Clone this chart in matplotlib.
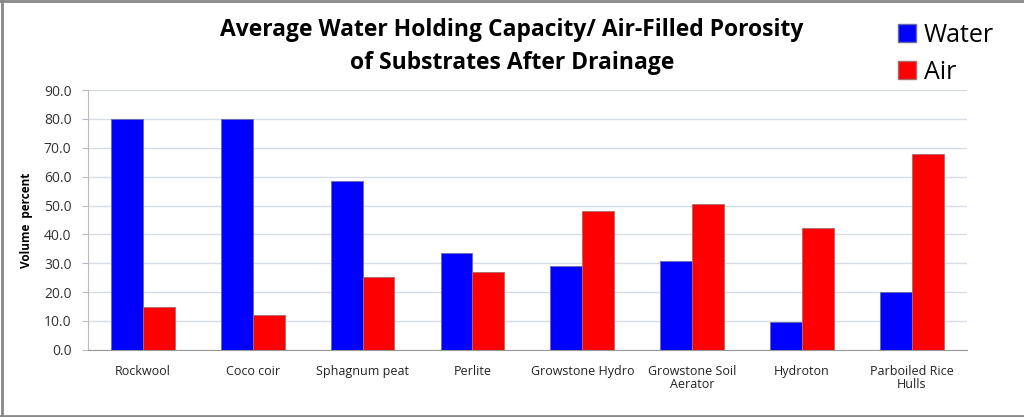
import matplotlib
matplotlib.use("Agg")
import matplotlib.pyplot as plt
import numpy as np
from matplotlib.lines import Line2D

categories = ["Rockwool", "Coco coir", "Sphagnum peat", "Perlite", "Growstone Hydro",
              "Growstone Soil\nAerator", "Hydroton", "Parboiled Rice\nHulls"]
water = [80.0, 80.0, 58.6, 33.6, 28.9, 30.9, 9.5, 20.0]
air = [14.9, 12.2, 25.3, 26.9, 48.1, 50.7, 42.3, 67.9]
yticks = [0, 10, 20, 30, 40, 50, 60, 70, 80, 90]

plt.rcParams['font.family'] = ['Open Sans', 'DejaVu Sans']

fig = plt.figure(figsize=(10.24, 4.17), dpi=100)
ax = fig.add_axes([0.086, 0.161, 0.858, 0.623])

x = np.arange(len(categories))
w = 0.29
ax.bar(x - w/2, water, w, color="#0000FF", edgecolor="#6a6aa8", linewidth=0.6, zorder=3, label="Water")
ax.bar(x + w/2, air, w, color="#FF0000", edgecolor="#a86a6a", linewidth=0.6, zorder=3, label="Air")

ax.set_xlim(-0.5, len(categories) - 0.5)
ax.set_ylim(0, 90)
ax.set_yticks(yticks)
ax.set_yticklabels([f"{v:.1f}" for v in yticks], fontsize=10, color="#333333")
ax.set_xticks(x)
ax.set_xticklabels(categories, fontsize=9, color="#222222", linespacing=1.0)
ax.tick_params(axis='x', length=0, pad=11)
ax.tick_params(axis='y', length=4, color="#bbbbbb", pad=8)
ax.grid(axis='y', color="#d5dce8", linewidth=1.0, zorder=0)
for s in ["top", "right"]:
    ax.spines[s].set_visible(False)
ax.spines["left"].set_color("#bbbbbb")
ax.spines["bottom"].set_color("#999999")
ax.set_ylabel("Volume  percent", fontsize=8.5, fontweight="bold", labelpad=8)

fig.text(0.5, 0.927, "Average Water Holding Capacity/ Air-Filled Porosity",
         ha="center", va="center", fontsize=16.5, fontweight="bold")
fig.text(0.5, 0.848, "of Substrates After Drainage",
         ha="center", va="center", fontsize=16.5, fontweight="bold")

handles = [Line2D([0], [0], marker='s', linestyle='none', markersize=13,
                  markerfacecolor="#0000FF", markeredgecolor="#6a6aa8"),
           Line2D([0], [0], marker='s', linestyle='none', markersize=13,
                  markerfacecolor="#FF0000", markeredgecolor="#a86a6a")]
fig.legend(handles, ["Water", "Air"], loc="upper left", bbox_to_anchor=(0.852, 1.0),
           frameon=False, fontsize=18, handletextpad=0.15, labelspacing=0.5,
           handlelength=1.0)

# outer frame
fig.add_artist(Line2D([0, 1], [0.997, 0.997], transform=fig.transFigure, color="#888888", linewidth=2))
fig.add_artist(Line2D([0.002, 0.002], [0, 1], transform=fig.transFigure, color="#888888", linewidth=2))
fig.add_artist(Line2D([0, 1], [0.003, 0.003], transform=fig.transFigure, color="#888888", linewidth=2))

fig.savefig("out.png", dpi=100)
